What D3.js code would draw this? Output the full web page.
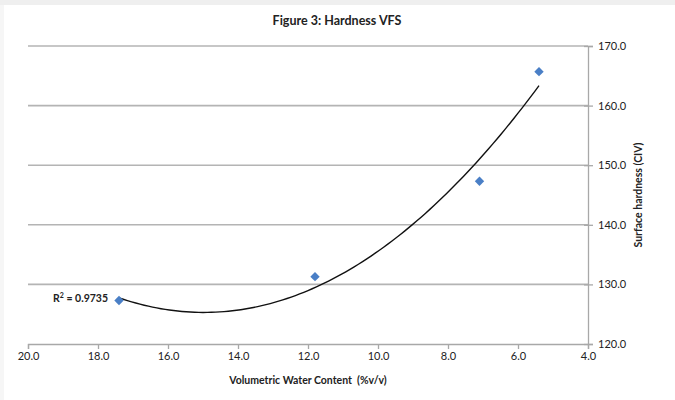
<!DOCTYPE html>
<html><head><meta charset="utf-8">
<script src="https://cdn.jsdelivr.net/npm/d3@7"></script>
<style>
html,body{margin:0;padding:0;background:#fff;}
svg{display:block;font-family:"Lato","Open Sans",sans-serif;}
text{white-space:pre;}
</style></head>
<body><svg id="c" width="675" height="400"></svg>
<script>
const waterContent = [17.4, 11.8, 7.1, 5.4];
const hardness = [127.3, 131.3, 147.3, 165.7];
const xTicks = [20, 18, 16, 14, 12, 10, 8, 6, 4];
const yTicks = [120, 130, 140, 150, 160, 170];
const titleText = "Figure 3: Hardness VFS";
const xTitle = "Volumetric Water Content  (%v/v)";
const yTitle = "Surface hardness (CIV)";
const r2Label = "0.9735";

const svg = d3.select("#c");
// frame
svg.append("rect").attr("x",0).attr("y",0).attr("width",675).attr("height",5).attr("fill","#efefef");
svg.append("rect").attr("x",0).attr("y",5).attr("width",4).attr("height",395).attr("fill","#f6f6f6");

const x = d3.scaleLinear().domain([20,4]).range([28,588]);
const y = d3.scaleLinear().domain([120,170]).range([344,46]);

// gridlines
svg.append("g").selectAll("line").data(yTicks.filter(d=>d>120)).join("line")
  .attr("x1",28).attr("x2",588).attr("y1",d=>y(d)).attr("y2",d=>y(d))
  .attr("stroke","#b4b4b4").attr("stroke-width",1.6);

// x axis
const xa = svg.append("g").attr("transform","translate(0,344)")
  .call(d3.axisBottom(x).tickValues(xTicks).tickFormat(d3.format(".1f")).tickSize(5).tickPadding(3));
// y axis (right)
const ya = svg.append("g").attr("transform","translate(588,0)")
  .call(d3.axisRight(y).tickValues(yTicks).tickFormat(d3.format(".1f")).tickSize(5).tickPadding(5));
[xa,ya].forEach(a=>{
  a.select(".domain").attr("stroke","#a8a8a8").attr("stroke-width",1.3);
  a.selectAll(".tick line").attr("stroke","#a8a8a8").attr("stroke-width",1.3);
  a.selectAll("text").attr("fill","#222").style("font-size","11px").style("font-family","Lato, sans-serif");
});
ya.selectAll(".tick").append("line").attr("x1",-4).attr("x2",0).attr("stroke","#a8a8a8").attr("stroke-width",1.3);

// polynomial (order 2) least-squares trendline from the data
function polyfit2(xs, ys){
  let S=[0,0,0,0,0], T=[0,0,0];
  xs.forEach((xv,i)=>{ for(let k=0;k<5;k++) S[k]+=Math.pow(xv,k); for(let k=0;k<3;k++) T[k]+=ys[i]*Math.pow(xv,k); });
  const A=[[S[0],S[1],S[2],T[0]],[S[1],S[2],S[3],T[1]],[S[2],S[3],S[4],T[2]]];
  for(let i=0;i<3;i++){ for(let j=i+1;j<3;j++){ const f=A[j][i]/A[i][i]; for(let k=i;k<4;k++) A[j][k]-=f*A[i][k]; } }
  const c=[0,0,0];
  for(let i=2;i>=0;i--){ let s=A[i][3]; for(let k=i+1;k<3;k++) s-=A[i][k]*c[k]; c[i]=s/A[i][i]; }
  return c;
}
const coef = polyfit2(waterContent, hardness);
const xmin = d3.min(waterContent), xmax = d3.max(waterContent);
const curve = d3.range(0,101).map(i=>{ const xv = xmax - (xmax-xmin)*i/100; return [xv, coef[0]+coef[1]*xv+coef[2]*xv*xv]; });
svg.append("path").datum(curve)
  .attr("d", d3.line().x(d=>x(d[0])).y(d=>y(d[1])))
  .attr("fill","none").attr("stroke","#111").attr("stroke-width",1.4);

// points (square diamonds)
svg.append("g").selectAll("path").data(waterContent.map((d,i)=>[d,hardness[i]])).join("path")
  .attr("transform",d=>`translate(${x(d[0])},${y(d[1])}) rotate(45)`)
  .attr("d", d3.symbol(d3.symbolSquare, 44)())
  .attr("fill","#4a7fc6");

// texts
svg.append("text").attr("x",337).attr("y",25).attr("text-anchor","middle")
  .style("font-weight","bold").style("font-size","12.5px").attr("fill","#222").text(titleText);
svg.append("text").attr("x",308).attr("y",384).attr("text-anchor","middle")
  .style("font-weight","bold").style("font-size","10.5px").attr("fill","#222").text(xTitle);
svg.append("text").attr("transform","translate(642,195) rotate(-90)").attr("text-anchor","middle")
  .style("font-weight","bold").style("font-size","10.5px").attr("fill","#222").text(yTitle);
const r2 = svg.append("text").attr("x",108).attr("y",302).attr("text-anchor","end")
  .style("font-weight","bold").style("font-size","10.5px").attr("fill","#222");
r2.append("tspan").text("R");
r2.append("tspan").attr("dy",-4).style("font-size","7px").text("2");
r2.append("tspan").attr("dy",4).text(" = " + r2Label);
</script></body></html>
